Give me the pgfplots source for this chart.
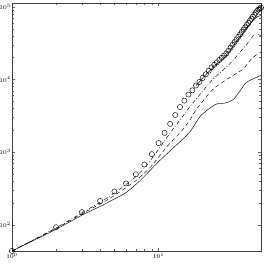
\documentclass[border=0pt]{standalone}
\usepackage{pgfplots}
\pgfplotsset{compat=1.18}
\begin{document}
\begin{tikzpicture}
\begin{axis}[
  scale only axis, width=249pt, height=248pt,
  xmode=log, ymode=log,
  xmin=1, xmax=50, ymin=43.5, ymax=1.13e5,
  xtick={1,10}, ytick={100,1000,10000,100000},
  tick label style={font=\fontsize{6}{7}\selectfont, inner sep=0.6pt},
  xticklabel style={yshift=-1pt},
  yticklabel style={xshift=-0.5pt},
  major tick length=3pt, minor tick length=1.8pt,
  axis line style={line width=0.6pt, black!75},
  every tick/.style={black!60, line width=0.4pt},
  clip=false,
]
% lower solid
\addplot[black, line width=0.45pt, smooth, tension=0.4] coordinates {
(1,43.5) (2.03,88) (3.05,138) (4.05,181) (5.07,230) (6.02,278) (7.5,408)
(10.25,774) (14.0,1391) (16.4,1914) (19.2,3093) (22.4,4045) (24.9,4600)
(27.0,4680) (29.2,4800) (32.4,5300) (36.0,7000) (39.4,9000) (43.3,10000) (48.6,11110) (50,11370)};
% dashed
\addplot[black, line width=0.45pt, dash pattern=on 4pt off 3pt, smooth, tension=0.4] coordinates {
(1,43.5) (2.033,90.8) (3.055,144.5) (4.051,196) (5.07,257) (6.02,327) (7.04,408)
(8.11,527) (9.05,659) (10.25,908) (11.99,1334) (14.03,1836) (16.41,2783) (18.03,3831)
(23.41,7261) (30.37,10560) (37.46,13770) (43.8,20000) (50,23710)};
% dash-dot
\addplot[black, line width=0.45pt, dash pattern=on 4pt off 2pt on 0.8pt off 2pt, smooth, tension=0.4] coordinates {
(1,43.5) (2.033,92.3) (3.055,149) (4.051,208) (5.07,278) (6.02,360) (7.04,464)
(8.11,619) (9.05,826) (10.25,1172) (11.99,1836) (14.03,2783) (16.41,4256) (18.68,5860)
(23.41,10000) (30.37,16150) (35.51,22960) (41.53,33730) (45.4,42170) (50,40180)};
% upper solid
\addplot[black, line width=0.5pt, smooth, tension=0.4] coordinates {
(18,8260) (19,9226) (20,10495) (22,12735) (24,15205) (26,17500)
(28,19907) (30,23388) (32,28054) (34,33189) (36,38548) (38,44875) (40,51168)
(42,57943) (44,64565) (46,70632) (48,74473) (50,75509)};
% circles
\addplot[black, only marks, mark=o, mark size=2.6pt, mark options={line width=0.45pt}] coordinates {
(1,43.55) (2,92.3) (3,149.3) (4,211.8) (5,287.1) (6,370.7) (7,494.3) (8,674.5)
(9,937.6) (10,1334) (11,1837) (12,2449) (13,3243) (14,4178) (15,5105) (16,6194)
(17,7096) (18,8260) (19,9226) (20,10495) (21,11803) (22,13183) (23,14689)
(24,15922) (25,17219) (26,18535) (27,19907) (28,21330) (29,22803) (30,25061)
(31,27479) (32,30061) (33,32734) (34,35563) (35,38637) (36,41783) (37,45082)
(38,48641) (39,52240) (40,56105) (41,60117) (42,64269) (43,68707) (44,73282)
(45,77983) (46,82985) (47,88105) (48,91622) (49,94624) (50,97275)};
\end{axis}
\pgfresetboundingbox
\path[use as bounding box] (-12pt,-13pt) rectangle (254pt,251pt);
\end{tikzpicture}
\end{document}
